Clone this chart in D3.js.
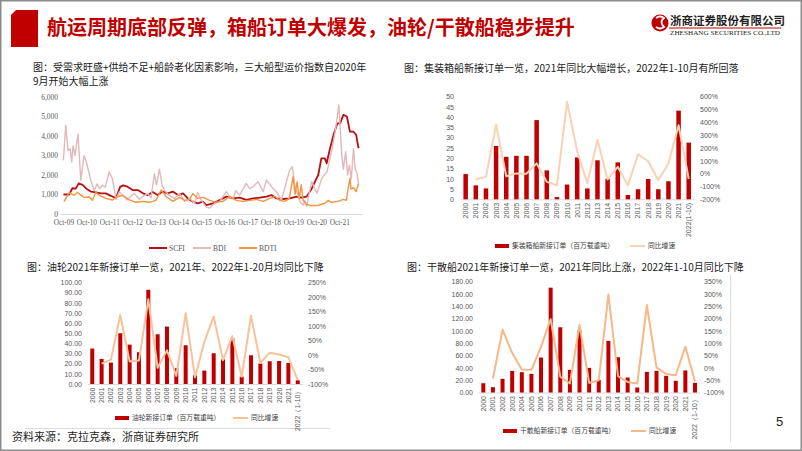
<!DOCTYPE html>
<html>
<head>
<meta charset="utf-8">
<script src="https://cdn.jsdelivr.net/npm/d3@7"></script>
<style>
body { margin: 0; background: #fff; }
svg { display: block; font-family: "Noto Sans CJK SC", "Noto Sans", sans-serif; }
</style>
</head>
<body>
<svg id="slide" width="802" height="451"></svg>
<script>
// ---- freight indices (top left) ----
var scfi = [
  ["2009-10-01",1000],["2010-01-01",1000],["2010-02-20",1320],["2010-04-15",1300],["2010-06-01",1570],
  ["2010-08-01",1490],["2010-10-01",1300],["2010-12-10",1150],["2011-03-01",1110],["2011-05-20",1060],
  ["2011-08-05",1060],["2011-10-25",930],["2012-01-15",820],["2012-03-20",1390],["2012-05-10",1470],
  ["2012-07-15",1400],["2012-10-05",1230],["2013-01-01",1220],["2013-03-20",1060],["2013-06-01",960],
  ["2013-08-20",1130],["2013-11-05",970],["2014-01-25",1150],["2014-04-15",1060],["2014-07-05",1150],
  ["2014-09-25",970],["2014-12-15",1060],["2015-03-01",800],["2015-05-20",630],["2015-08-05",550],
  ["2015-10-25",630],["2015-12-20",450],["2016-04-05",550],["2016-07-20",720],["2016-11-01",890],
  ["2017-02-15",800],["2017-06-01",840],["2017-09-15",720],["2018-01-01",800],["2018-04-15",840],
  ["2018-08-01",890],["2018-10-20",970],["2019-01-05",800],["2019-04-20",770],["2019-08-05",800],
  ["2019-11-25",890],["2020-02-10",840],["2020-05-01",890],["2020-07-20",1300],["2020-09-10",1660],
  ["2020-11-01",2000],["2020-12-20",2850],["2021-02-15",2850],["2021-03-15",2600],["2021-05-01",3280],
  ["2021-07-01",4050],["2021-09-01",4650],["2021-10-15",4650],["2021-12-05",5080],["2022-01-30",5000],
  ["2022-03-20",4220],["2022-05-15",4220],["2022-06-28",4050],["2022-07-20",3600],["2022-08-05",3370]
];
var bdi = [
  ["2009-10-01",2750],["2009-11-07",4550],["2009-12-13",3260],["2010-01-15",3350],["2010-02-10",2670],
  ["2010-03-03",3500],["2010-04-05",3000],["2010-05-20",4100],["2010-07-05",1730],["2010-08-25",3000],
  ["2010-10-01",2670],["2010-12-10",1730],["2011-02-03",1200],["2011-03-20",1550],["2011-04-25",1300],
  ["2011-06-15",1470],["2011-07-28",1380],["2011-09-28",2150],["2011-11-20",1800],["2012-01-15",750],
  ["2012-03-05",1130],["2012-05-15",950],["2012-07-01",720],["2012-08-15",850],["2012-11-01",1050],
  ["2013-01-20",750],["2013-03-15",900],["2013-06-01",1050],["2013-07-25",850],["2013-09-15",2050],
  ["2013-10-20",1500],["2013-12-05",2300],["2014-01-15",1500],["2014-02-25",1200],["2014-05-10",950],
  ["2014-08-01",800],["2014-10-20",1050],["2015-01-10",650],["2015-04-01",800],["2015-06-15",550],
  ["2015-08-05",1100],["2015-10-01",700],["2015-12-20",350],["2016-02-10",300],["2016-05-01",550],
  ["2016-07-20",650],["2016-11-01",1150],["2017-01-01",850],["2017-02-15",800],["2017-04-01",1200],
  ["2017-06-01",970],["2017-09-15",1570],["2017-11-05",1300],["2018-01-01",1400],["2018-03-20",1660],
  ["2018-06-10",1150],["2018-08-01",1740],["2018-10-20",1400],["2019-01-05",1150],["2019-03-28",700],
  ["2019-06-15",1660],["2019-08-05",2250],["2019-09-15",2430],["2019-10-25",1490],["2020-01-15",630],
  ["2020-03-10",450],["2020-04-01",700],["2020-05-01",400],["2020-06-15",1150],["2020-07-20",1660],
  ["2020-10-10",1060],["2020-12-28",1830],["2021-03-20",2170],["2021-06-01",3200],["2021-07-28",4220],
  ["2021-09-25",5590],["2021-11-10",3000],["2021-12-05",2300],["2022-01-10",3200],["2022-02-10",2000],
  ["2022-03-10",2500],["2022-04-10",1800],["2022-05-15",3350],["2022-06-12",2300],["2022-07-08",2100],
  ["2022-08-03",1570]
];
var bdti = [
  ["2009-10-10",630],["2010-01-01",1100],["2010-03-20",950],["2010-05-10",1100],["2010-08-25",850],
  ["2010-11-15",870],["2011-01-05",700],["2011-03-01",1130],["2011-04-25",950],["2011-08-05",800],
  ["2011-11-20",720],["2012-02-10",900],["2012-05-01",950],["2012-08-15",720],["2012-11-30",600],
  ["2013-03-15",650],["2013-06-28",600],["2013-10-10",700],["2014-01-01",1230],["2014-03-20",900],
  ["2014-07-05",650],["2014-10-20",850],["2015-01-10",700],["2015-04-01",750],["2015-05-20",1050],
  ["2015-08-05",800],["2015-11-01",850],["2016-02-10",700],["2016-05-25",600],["2016-09-10",650],
  ["2016-12-25",900],["2017-04-10",700],["2017-07-25",650],["2017-11-05",700],["2018-02-25",750],
  ["2018-06-10",650],["2018-09-25",800],["2018-12-15",900],["2019-03-01",700],["2019-05-20",650],
  ["2019-07-30",800],["2019-09-28",1910],["2019-10-30",1000],["2019-12-01",1650],["2020-01-05",800],
  ["2020-02-05",1500],["2020-03-05",700],["2020-04-25",500],["2020-07-20",420],["2020-11-01",450],
  ["2021-02-15",550],["2021-04-10",700],["2021-06-01",600],["2021-09-10",650],["2021-12-05",750],
  ["2022-01-20",700],["2022-03-01",1490],["2022-03-20",1830],["2022-04-05",1280],["2022-05-15",1350],
  ["2022-06-25",1150],["2022-08-03",1570]
];
var indexTicks = [0, 1000, 2000, 3000, 4000, 5000, 6000];
var indexDateTicks = ["2009-10-01","2010-10-01","2011-10-01","2012-10-01","2013-10-01","2014-10-01",
  "2015-10-01","2016-10-01","2017-10-01","2018-10-01","2019-10-01","2020-10-01","2021-10-01"];

// ---- new orders by year ----
var boxYears = ["2000","2001","2002","2003","2004","2005","2006","2007","2008","2009","2010","2011",
  "2012","2013","2014","2015","2016","2017","2018","2019","2020","2021","2022(1-10)"];
var shipYears = ["2000","2001","2002","2003","2004","2005","2006","2007","2008","2009","2010","2011",
  "2012","2013","2014","2015","2016","2017","2018","2019","2020","2021","2022（1-10）"];

var boxOrders = [12.3,6.8,5.3,26,20.7,21.2,21.2,38.6,14.1,1.1,7.2,20.4,5.3,19,10,18,2.1,4.9,9.9,4.9,8.8,43.2,27.6];
var boxGrowth = [null,-44,-25,383,-20,2,0,80,-64,-91,560,175,-74,265,-45,53,-91,151,97,-52,79,378,-42];
var boxLeftTicks = [0,5,10,15,20,25,30,35,40,45,50];
var boxRightTicks = [-200,-100,0,100,200,300,400,500,600];

var tankerOrders = [34.9,24.7,21.1,50,38.8,31.3,92.8,49,56.6,15.5,38.2,8.5,13.2,30.3,24.3,45,7.2,28.3,20.1,22.4,22.7,20.7,3.6];
var tankerGrowth = [null,-30,-16,138,-22,-19,192,-44,16,-72,144,-77,45,133,-18,65,-75,135,-27,8,2,-8,-86];
var tankerLeftTicks = [0,10,20,30,40,50,60,70,80,90,100];
var tankerRightTicks = [-100,-50,0,50,100,150,200,250];

var bulkOrders = [15.1,8.6,22.2,35.1,33,30.3,56.8,170.3,106,36.8,101,40,20.5,83.8,57.3,24.4,8.1,33.6,35.2,27.1,19,35.8,15.7];
var bulkGrowth = [null,-43,155,60,-7,-8,85,198,-36,-63,175,-61,-50,298,-34,-57,-64,255,2,-25,-30,86,-55];
var bulkLeftTicks = [0,20,40,60,80,100,120,140,160,180];
var bulkRightTicks = [-100,-50,0,50,100,150,200,250,300,350];

var RED = "#C00000";
var svg = d3.select("#slide");

// slide frame
svg.append("rect").attr("x", 0.75).attr("y", 0.75).attr("width", 800.5).attr("height", 449.5)
  .attr("fill", "#fff").attr("stroke", "#8c8c8c").attr("stroke-width", 1.5);

// header
svg.append("path").attr("d", "M11,15 L16,10 L38,10 L38,47 L11,47 Z").attr("fill", RED);
svg.append("text").attr("x", 47).attr("y", 35).attr("fill", RED)
  .style("font-size", "20px").style("font-weight", 700)
  .text("航运周期底部反弹，箱船订单大爆发，油轮/干散船稳步提升");

var logo = svg.append("g");
logo.append("circle").attr("cx", 660).attr("cy", 23).attr("r", 8.5).attr("fill", RED);
logo.append("path").attr("d", "M656,18 Q660,15 664,18 Q659,22 664,27 Q660,30 656,27")
  .attr("fill", "none").attr("stroke", "#fff").attr("stroke-width", 1.8);
logo.append("text").attr("x", 670).attr("y", 25).attr("fill", "#222")
  .style("font-size", "11.5px").style("font-weight", 700).text("浙商证券股份有限公司");
logo.append("line").attr("x1", 669).attr("x2", 781).attr("y1", 28).attr("y2", 28)
  .attr("stroke", RED).attr("stroke-width", 1);
logo.append("text").attr("x", 670).attr("y", 35).attr("fill", "#222")
  .attr("textLength", 110).attr("lengthAdjust", "spacingAndGlyphs")
  .style("font-family", "'Liberation Serif', serif").style("font-size", "6px")
  .text("ZHESHANG SECURITIES CO.,LTD");

// footer
svg.append("text").attr("x", 12).attr("y", 441).attr("fill", "#262626")
  .style("font-size", "11px").text("资料来源：克拉克森，浙商证券研究所");
svg.append("text").attr("x", 776).attr("y", 426).attr("fill", "#222")
  .style("font-family", "'Liberation Sans', Arial, sans-serif").style("font-size", "13px").text("5");

// panel borders of the pasted pictures
svg.append("line").attr("x1", 25).attr("x2", 330).attr("y1", 428.5).attr("y2", 428.5).attr("stroke", "#dcdcdc");
svg.append("line").attr("x1", 730.5).attr("x2", 730.5).attr("y1", 275).attr("y2", 442).attr("stroke", "#dcdcdc");

function title(x, y, lines) {
  lines.forEach(function(t, i) {
    svg.append("text").attr("x", x).attr("y", y + i * 14).attr("fill", "#1a1a1a")
      .style("font-size", "10px").text(t);
  });
}

// ---- chart 1: freight indices ----
title(33, 70.5, ["图：受需求旺盛+供给不足+船龄老化因素影响，三大船型运价指数自2020年", "9月开始大幅上涨"]);

var parse = d3.timeParse("%Y-%m-%d");
var xT = d3.scaleTime().domain([parse("2009-08-08"), parse("2022-09-27")]).range([60, 362]);
var yI = d3.scaleLinear().domain([0, 6000]).range([214, 97]);
var serif = "'Liberation Serif', 'DejaVu Serif', serif";

var gy = svg.append("g").attr("transform", "translate(61,0)")
  .call(d3.axisLeft(yI).tickValues(indexTicks).tickSize(0).tickPadding(3).tickFormat(d3.format(",")));
gy.select(".domain").remove();
gy.selectAll("text").attr("fill", "#595959").style("font-family", serif).style("font-size", "7.5px");

var gx = svg.append("g").attr("transform", "translate(0,214)")
  .call(d3.axisBottom(xT).tickValues(indexDateTicks.map(parse)).tickSize(0).tickPadding(6)
    .tickFormat(d3.timeFormat("%b-%y")));
gx.select(".domain").attr("stroke", "#d9d9d9");
gx.selectAll("text").attr("fill", "#595959").style("font-family", serif).style("font-size", "7.3px");

var idxLine = d3.line().x(function(d) { return xT(parse(d[0])); }).y(function(d) { return yI(d[1]); });
var idxSeries = [
  { name: "SCFI", data: scfi, color: "#B70F14", w: 1.8 },
  { name: "BDI", data: bdi, color: "#E4B7BA", w: 1.4 },
  { name: "BDTI", data: bdti, color: "#F39440", w: 1.4 }
];
idxSeries.forEach(function(s) {
  svg.append("path").datum(s.data).attr("d", idxLine).attr("fill", "none")
    .attr("stroke", s.color).attr("stroke-width", s.w).attr("stroke-linejoin", "round");
});
var legX = [149, 193, 239];
idxSeries.forEach(function(s, i) {
  svg.append("line").attr("x1", legX[i]).attr("x2", legX[i] + 18).attr("y1", 248).attr("y2", 248)
    .attr("stroke", s.color).attr("stroke-width", 2);
  svg.append("text").attr("x", legX[i] + 20).attr("y", 250.7).attr("fill", "#595959")
    .style("font-family", serif).style("font-size", "7.5px").text(s.name);
});

// ---- charts 2-4: bars + growth line ----
function combo(c) {
  var x = d3.scaleBand().domain(c.cats).range([c.x0, c.x1]);
  var yL = d3.scaleLinear().domain([c.leftTicks[0], c.leftTicks[c.leftTicks.length - 1]]).range([c.base, c.top]);
  var yR = d3.scaleLinear().domain([c.rightTicks[0], c.rightTicks[c.rightTicks.length - 1]]).range([c.base, c.top]);

  var g = svg.append("g");
  var al = g.append("g").attr("transform", "translate(" + c.leftX + ",0)")
    .call(d3.axisLeft(yL).tickValues(c.leftTicks).tickSize(0).tickPadding(0).tickFormat(c.leftFmt));
  al.select(".domain").remove();
  var ar = g.append("g").attr("transform", "translate(" + c.rightX + ",0)")
    .call(d3.axisRight(yR).tickValues(c.rightTicks).tickSize(0).tickPadding(0)
      .tickFormat(function(d) { return d + "%"; }));
  ar.select(".domain").remove();
  g.selectAll("text").attr("fill", "#595959").style("font-size", "7px");

  var ax = g.append("g").attr("transform", "translate(0," + c.base + ")")
    .call(d3.axisBottom(x).tickSize(0));
  ax.select(".domain").attr("stroke", "#d9d9d9");
  ax.selectAll("text").attr("transform", "rotate(-90)").attr("x", -3.5).attr("y", 0)
    .attr("dy", "0.35em").style("text-anchor", "end").attr("fill", "#595959").style("font-size", "7px");

  g.selectAll(".bar").data(c.bars).enter().append("rect")
    .attr("x", function(d, i) { return x(c.cats[i]) + (x.bandwidth() - c.barW) / 2; })
    .attr("y", function(d) { return yL(d); })
    .attr("width", c.barW)
    .attr("height", function(d) { return c.base - yL(d); })
    .attr("fill", RED);

  var ln = d3.line().defined(function(d) { return d != null; })
    .x(function(d, i) { return x(c.cats[i]) + x.bandwidth() / 2; })
    .y(function(d) { return yR(d); });
  g.append("path").datum(c.growth).attr("d", ln).attr("fill", "none")
    .attr("stroke", c.lineColor).attr("stroke-width", 2).attr("stroke-linejoin", "round");

  var L = c.legend;
  g.append("rect").attr("x", L[0]).attr("y", c.legendY - 2).attr("width", 14).attr("height", 4).attr("fill", RED);
  g.append("text").attr("x", L[0] + 17).attr("y", c.legendY + 2.4).attr("fill", "#404040")
    .style("font-size", "6.8px").text(c.barLabel);
  g.append("line").attr("x1", L[1]).attr("x2", L[1] + 15).attr("y1", c.legendY).attr("y2", c.legendY)
    .attr("stroke", c.lineColor).attr("stroke-width", 2);
  g.append("text").attr("x", L[1] + 18).attr("y", c.legendY + 2.4).attr("fill", "#404040")
    .style("font-size", "6.8px").text("同比增速");
}

title(404, 72, ["图：集装箱船新接订单一览，2021年同比大幅增长，2022年1-10月有所回落"]);
combo({
  cats: boxYears, bars: boxOrders, growth: boxGrowth,
  x0: 460.6, x1: 693.8, top: 96.7, base: 199.3, barW: 4.5,
  leftTicks: boxLeftTicks, leftFmt: d3.format("d"), leftX: 454,
  rightTicks: boxRightTicks, rightX: 700,
  lineColor: "#F9D2B6", legendY: 246, legend: [495, 630],
  barLabel: "集装箱船新接订单（百万载重吨）"
});

title(27, 271, ["图：油轮2021年新接订单一览，2021年、2022年1-20月均同比下降"]);
combo({
  cats: shipYears, bars: tankerOrders, growth: tankerGrowth,
  x0: 87.6, x1: 302.4, top: 282.5, base: 384, barW: 4,
  leftTicks: tankerLeftTicks, leftFmt: d3.format(".2f"), leftX: 82,
  rightTicks: tankerRightTicks, rightX: 308,
  lineColor: "#F7C29C", legendY: 418, legend: [115, 233],
  barLabel: "油轮新接订单（百万载重吨）"
});

title(407, 271, ["图：干散船2021年新接订单一览，2021年同比上涨，2022年1-10月同比下降"]);
combo({
  cats: shipYears, bars: bulkOrders, growth: bulkGrowth,
  x0: 478.5, x1: 699.8, top: 281.7, base: 392.5, barW: 4,
  leftTicks: bulkLeftTicks, leftFmt: d3.format(".2f"), leftX: 473,
  rightTicks: bulkRightTicks, rightX: 704,
  lineColor: "#F6B888", legendY: 431, legend: [503, 631],
  barLabel: "干散船新接订单（百万载重吨）"
});
</script>
</body>
</html>
